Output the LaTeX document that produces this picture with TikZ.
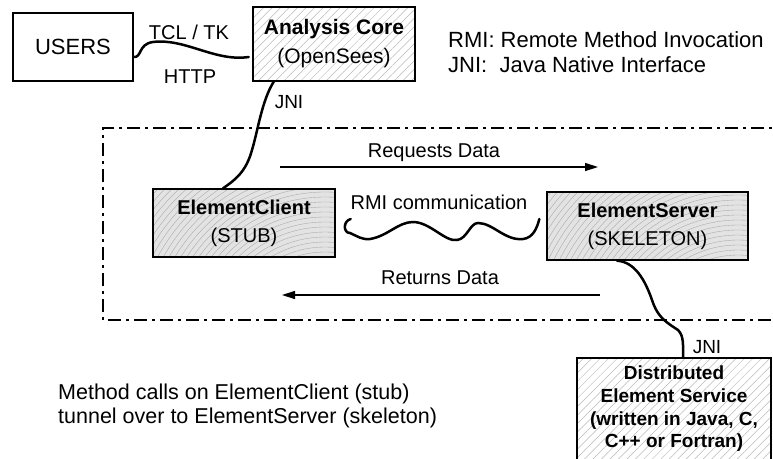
\documentclass[tikz,border=0pt]{standalone}
\usepackage{fontspec}
\setmainfont{Liberation Sans}
\usetikzlibrary{arrows.meta,patterns.meta}
\begin{document}
\begin{tikzpicture}[x=1pt,y=-1pt,
  box/.style={draw, line width=1.3pt, rectangle, inner sep=0pt, align=center},
  hatched/.style={box, pattern={Lines[angle=45,distance=6pt,line width=0.5pt]}, pattern color=gray!55},
  shaded/.style={box, fill=gray!22, path picture={
      \foreach \r in {90,95,...,320}
        \draw[gray!70, line width=0.35pt] ([xshift=-10pt,yshift=-90pt]path picture bounding box.south east) circle[radius=\r pt];
    }},
  lbl/.style={font=\fontsize{20}{24}\selectfont, inner sep=0pt},
  wire/.style={line width=2.5pt, line cap=round},
  flow/.style={line width=1.4pt, -{Triangle[length=13pt,width=8pt]}},
  frame/.style={line width=1.4pt, dash pattern=on 13pt off 5pt on 3pt off 5pt},
]
\useasboundingbox (0,0) rectangle (773,458);
\clip (0,0) rectangle (773,458);

% dash-dot frame
\coordinate (fr1) at (790,128);
\coordinate (fr2) at (103,128);
\coordinate (fr3) at (103,320);
\coordinate (fr4) at (790,320);
\draw[frame] (fr1) -- (fr2) -- (fr3) -- (fr4);

% boxes
\node[box, minimum width=120pt, minimum height=68pt, font=\fontsize{22}{26}\selectfont] (users) at (73,47) {USERS};
\node[hatched, minimum width=162pt, minimum height=74pt, font=\fontsize{21}{29}\selectfont] (core) at (334,44) {\textbf{Analysis Core}\\(OpenSees)};
\node[shaded, minimum width=182pt, minimum height=68pt, font=\fontsize{20}{28}\selectfont] (client) at (244,223) {\textbf{ElementClient}\\(STUB)};
\node[shaded, minimum width=201pt, minimum height=68pt, font=\fontsize{20}{28}\selectfont] (server) at (647.5,226) {\textbf{ElementServer}\\(SKELETON)};
\node[hatched, minimum width=194pt, minimum height=102pt, font=\fontsize{19}{22.7}\selectfont\bfseries] (dist) at (674,409) {Distributed\\Element Service\\(written in Java, C,\\C++ or Fortran)};

% wires
\draw[wire] ([yshift=-10pt]users.east) .. controls (142,58) and (138,44) .. (153,42)
  .. controls (185,38) and (215,62) .. ([xshift=-4pt,yshift=-13pt]core.west);
\draw[wire] ([xshift=-60pt]core.south) .. controls (262,100) and (258,130) .. (252,150)
  .. controls (246,172) and (235,180) .. ([xshift=-21pt]client.north);
\draw[wire] ([xshift=-30.5pt]server.south) .. controls (635,262) and (645,280) .. (652,300)
  .. controls (658,318) and (666,322) .. (678,330)
  .. controls (684,336) and (683,345) .. ([xshift=9pt]dist.north);
\draw[wire] ([xshift=15pt,yshift=4pt]client.east) .. controls (343,221) and (343,233) .. (350,233)
  .. controls (357,236) and (362,240) .. (370,239)
  .. controls (388,236) and (398,222) .. (413,222)
  .. controls (430,222) and (445,242) .. (457,240)
  .. controls (467,239) and (470,223) .. (478,223)
  .. controls (493,223) and (505,241) .. (523,239)
  .. controls (533,238) and (537,228) .. ([xshift=-7pt,yshift=7pt]server.west);

% data arrows
\coordinate (reqA) at (280,167);
\coordinate (reqB) at (598,167);
\coordinate (retA) at (600,295);
\coordinate (retB) at (282,295);
\draw[flow] (reqA) -- (reqB);
\draw[flow] (retA) -- (retB);

% labels
\node[lbl] (tcl) at (189,32) {TCL / TK};
\node[lbl] (http) at (190,77) {HTTP};
\node[lbl, font=\fontsize{19}{22}\selectfont] (jni1) at (289,102) {JNI};
\node[lbl, font=\fontsize{19}{22}\selectfont] (jni2) at (707,347) {JNI};
\node[lbl] (req) at (434,153) {Requests Data};
\node[lbl] (rmic) at (439,202) {RMI communication};
\node[lbl] (ret) at (440,278) {Returns Data};
\node[lbl, anchor=west, align=left, font=\fontsize{22}{25}\selectfont] (legend) at (448,52)
  {RMI: Remote Method Invocation\\JNI:\ \ Java Native Interface};
\node[lbl, anchor=west, align=left, font=\fontsize{21.5}{23.5}\selectfont] (note) at (58,406)
  {Method calls on ElementClient (stub)\\tunnel over to ElementServer (skeleton)};
\end{tikzpicture}
\end{document}
